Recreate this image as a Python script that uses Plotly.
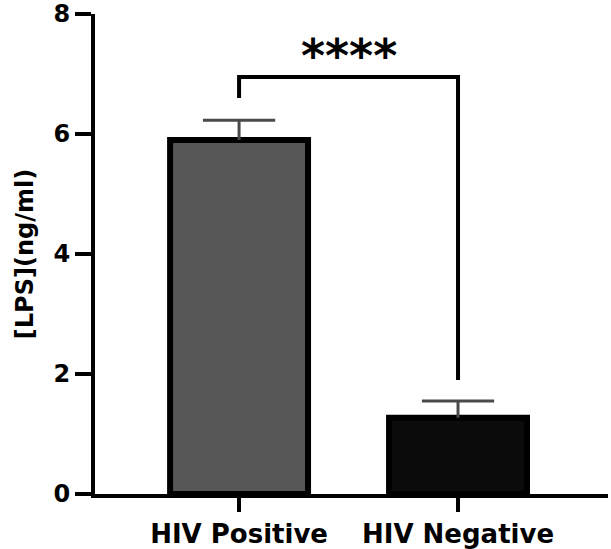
import plotly.graph_objects as go

categories = ["HIV Positive", "HIV Negative"]
means = [5.9, 1.27]
sem = [0.33, 0.28]
bar_colors = ["#575757", "#0b0b0b"]
y_ticks = [0, 2, 4, 6, 8]

# significance bracket (data units)
bracket_left_low = 6.6
bracket_top = 6.95
bracket_right_low = 1.9
star_y = 7.3
star_text = "****"

FONT = "DejaVu Sans"
CAP = 0.165  # half-width of the error-bar cap, in category units

# upper-only error bars (stem + cap) built from the data
ex, ey = [], []
for i, (m, s) in enumerate(zip(means, sem)):
    ex += [i, i, None, i - CAP, i + CAP, None]
    ey += [m, m + s, None, m + s, m + s, None]

fig = go.Figure()
fig.add_trace(go.Bar(
    x=[0, 1], y=means, width=0.63,
    marker=dict(color=bar_colors, line=dict(color="black", width=6)),
    showlegend=False,
))
fig.add_trace(go.Scatter(
    x=ex, y=ey, mode="lines", line=dict(color="#4a4a4a", width=3),
    showlegend=False, hoverinfo="skip",
))
fig.add_trace(go.Scatter(
    x=[0, 0, 1, 1],
    y=[bracket_left_low, bracket_top, bracket_top, bracket_right_low],
    mode="lines", line=dict(color="black", width=4), showlegend=False,
    hoverinfo="skip",
))
fig.add_annotation(x=0.5, y=star_y, text=star_text, showarrow=False,
                   font=dict(family=FONT, size=46, color="black", weight="bold"))

fig.update_layout(
    width=611, height=549,
    margin=dict(l=95, r=3, t=14, b=55),
    plot_bgcolor="white", paper_bgcolor="white",
    xaxis=dict(range=[-0.658, 1.685], tickmode="array", tickvals=[0, 1],
               ticktext=categories, showline=True, linecolor="black", linewidth=4,
               ticks="outside", ticklen=14, tickwidth=4, tickcolor="black",
               showgrid=False, zeroline=False, automargin=False,
               tickfont=dict(family=FONT, size=26, color="black", weight="bold")),
    yaxis=dict(range=[0, 8], tickvals=y_ticks, showline=True, linecolor="black",
               linewidth=4, ticks="outside", ticklen=16, tickwidth=4,
               tickcolor="black", showgrid=False, zeroline=False, automargin=False,
               tickfont=dict(family=FONT, size=24, color="black", weight="bold"),
               title=dict(text="[LPS](ng/ml)", standoff=14,
                          font=dict(family=FONT, size=24, color="black", weight="bold"))),
)
fig.write_html("out.html")
